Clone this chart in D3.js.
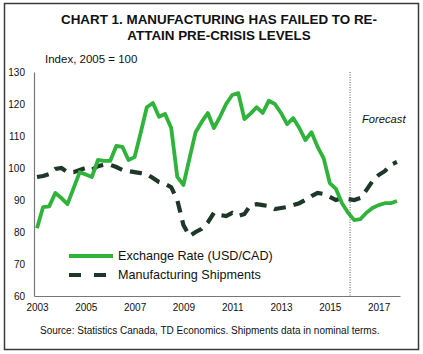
<!DOCTYPE html>
<html>
<head>
<meta charset="utf-8">
<script src="https://cdn.jsdelivr.net/npm/d3@7"></script>
<style>
  html, body { margin: 0; padding: 0; background: #fff; }
  svg { display: block; font-family: "Liberation Sans", Arial, sans-serif; }
</style>
</head>
<body>
<svg id="chart" width="423" height="354"></svg>
<script>
// Quarterly data, 2003Q1 .. 2017Q4
const startYear = 2003;
const exchangeRate = [
  81.2, 87.8, 88.0, 92.2, 90.6, 88.7, 93.7, 98.7, 98.0, 97.2,
  102.5, 102.2, 102.2, 106.9, 106.6, 102.5, 103.4, 111.0, 119.0, 120.3,
  116.0, 116.9, 112.5, 97.2, 94.7, 103.0, 111.2, 114.4, 117.2, 112.5,
  116.0, 120.0, 122.8, 123.4, 115.3, 117.0, 119.0, 117.2, 121.0, 120.0,
  117.2, 113.7, 115.6, 112.5, 108.7, 111.2, 106.6, 103.0, 95.3, 93.5,
  89.0, 86.0, 83.7, 84.0, 86.0, 87.5, 88.4, 89.0, 89.0, 89.7
];
const shipments = [
  97.2, 97.5, 98.1, 99.7, 100.0, 98.7, 98.7, 99.4, 100.0, 99.4,
  100.6, 101.0, 101.0, 100.3, 99.4, 99.0, 98.7, 98.4, 98.1, 96.9,
  95.6, 95.0, 94.0, 90.0, 82.2, 78.7, 80.0, 81.0, 83.0, 86.0,
  85.3, 85.0, 86.0, 85.0, 85.6, 88.4, 88.7, 88.4, 88.1, 87.2,
  87.5, 87.8, 88.4, 89.0, 90.0, 91.2, 92.2, 91.9, 91.0, 90.0,
  90.6, 90.3, 90.0, 90.6, 93.1, 95.9, 97.8, 99.0, 101.0, 101.9
];
const yTicks = [60, 70, 80, 90, 100, 110, 120, 130];
const xTicks = [2003, 2005, 2007, 2009, 2011, 2013, 2015, 2017];
const forecastStart = 2015.83;
const titleLines = ["CHART 1. MANUFACTURING HAS FAILED TO RE-", "ATTAIN PRE-CRISIS LEVELS"];
const yAxisTitle = "Index, 2005 = 100";
const seriesNames = ["Exchange Rate (USD/CAD)", "Manufacturing Shipments"];
const sourceText = "Source: Statistics Canada, TD Economics. Shipments data in nominal terms.";

const svg = d3.select("#chart");
const green = "#2fb33a";
const dark = "#1d3828";

// frame
svg.append("rect").attr("x", 4.5).attr("y", 3.5).attr("width", 414).attr("height", 346)
  .attr("fill", "#fff").attr("stroke", "#3a3a3a").attr("stroke-width", 1.5);

const x = d3.scaleLinear().domain([2002.877, 2017.877]).range([34, 400]);
const y = d3.scaleLinear().domain([60, 130]).range([296, 72]);
const t = i => startYear + i / 4;

// title
svg.append("g").selectAll("text").data(titleLines).join("text")
  .attr("x", 219).attr("y", (d, i) => 24 + i * 16)
  .attr("text-anchor", "middle").attr("font-weight", "bold").attr("font-size", 13.4)
  .attr("fill", "#111").text(d => d);

svg.append("text").attr("x", 45).attr("y", 63).attr("font-size", 11.5).attr("fill", "#111").text(yAxisTitle);

// axes
const yAxis = d3.axisLeft(y).tickValues(yTicks).tickSize(0).tickPadding(9);
const gy = svg.append("g").attr("transform", "translate(34,0)").call(yAxis);
gy.select(".domain").attr("stroke", "#777").attr("stroke-width", 1.2);
gy.selectAll("text").attr("font-size", 10).attr("fill", "#111").attr("font-family", "Liberation Sans, Arial, sans-serif");

const xAxis = d3.axisBottom(x).tickValues(xTicks).tickFormat(d3.format("d")).tickSize(0).tickPadding(8);
const gx = svg.append("g").attr("transform", "translate(0,296)").call(xAxis);
gx.select(".domain").attr("stroke", "#777").attr("stroke-width", 1.2);
gx.selectAll("text").attr("font-size", 10).attr("fill", "#111").attr("font-family", "Liberation Sans, Arial, sans-serif");

// forecast divider
svg.append("line").attr("x1", x(forecastStart)).attr("x2", x(forecastStart))
  .attr("y1", y(130)).attr("y2", y(60))
  .attr("stroke", "#555").attr("stroke-width", 1).attr("stroke-dasharray", "1,1.5");
svg.append("text").attr("x", 362).attr("y", 123).attr("font-size", 11.2).attr("font-style", "italic")
  .attr("fill", "#111").text("Forecast");

const line = d3.line().x((d, i) => x(t(i))).y(d => y(d)).curve(d3.curveLinear);

svg.append("path").datum(shipments).attr("d", line).attr("fill", "none")
  .attr("stroke", dark).attr("stroke-width", 4.2).attr("stroke-dasharray", "12,8");

svg.append("path").datum(exchangeRate).attr("d", line).attr("fill", "none")
  .attr("stroke", green).attr("stroke-width", 3.8).attr("stroke-linejoin", "round");

// legend
const leg = svg.append("g");
leg.append("line").attr("x1", 69).attr("x2", 113).attr("y1", 256).attr("y2", 256)
  .attr("stroke", green).attr("stroke-width", 3.8);
leg.append("line").attr("x1", 69).attr("x2", 109).attr("y1", 275).attr("y2", 275)
  .attr("stroke", dark).attr("stroke-width", 4.2).attr("stroke-dasharray", "12,13");
leg.selectAll("text").data(seriesNames).join("text")
  .attr("x", 118).attr("y", (d, i) => 260 + i * 19)
  .attr("font-size", 12.6).attr("fill", "#111").text(d => d);

svg.append("text").attr("x", 40).attr("y", 334).attr("font-size", 10).attr("fill", "#111").text(sourceText);
</script>
</body>
</html>
